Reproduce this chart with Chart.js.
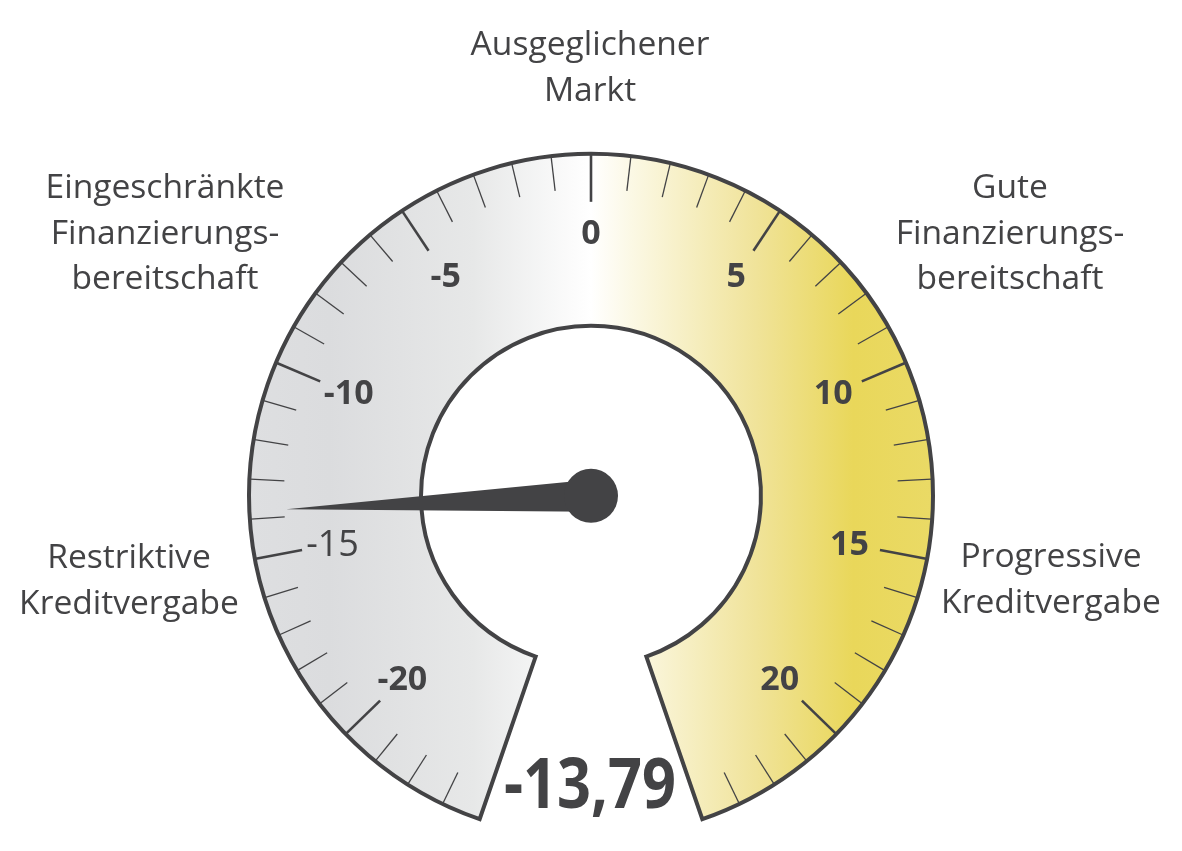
<!DOCTYPE html>
<html>
<head>
<meta charset="utf-8">
<script src="https://cdn.jsdelivr.net/npm/chart.js@4.4.0/dist/chart.umd.min.js"></script>
<style>
  html, body { margin: 0; padding: 0; background: #fff; }
  #wrap { width: 1182px; height: 851px; position: relative; }
</style>
</head>
<body>
<div id="wrap"><canvas id="gauge" width="1182" height="851"></canvas></div>
<script>
// gauge range and reading
var scaleRange = [-24, 24];
var majorTicks = [-20, -15, -10, -5, 0, 5, 10, 15, 20];
var tickLabels = ['-20', '-15', '-10', '-5', '0', '5', '10', '15', '20'];
var gaugeValue = -13.79;
var valueText = '-13,79';

// zone captions around the dial
var zoneLabels = [
  ['Restriktive', 'Kreditvergabe'],
  ['Eingeschränkte', 'Finanzierungs-', 'bereitschaft'],
  ['Ausgeglichener', 'Markt'],
  ['Gute', 'Finanzierungs-', 'bereitschaft'],
  ['Progressive', 'Kreditvergabe']
];

var ink = '#434345';

function gaugeFill(context) {
  var chart = context.chart;
  var area = chart.chartArea;
  if (!area) return '#e6e6e6';
  var cx = (area.left + area.right) / 2;
  var g = chart.ctx.createLinearGradient(cx - 345, 0, cx + 345, 0);
  g.addColorStop(0.00, '#dedfe1');
  g.addColorStop(0.12, '#dbdcde');
  g.addColorStop(0.33, '#e7e8e8');
  g.addColorStop(0.47, '#fbfbfb');
  g.addColorStop(0.50, '#ffffff');
  g.addColorStop(0.56, '#fbf8e4');
  g.addColorStop(0.74, '#f0e399');
  g.addColorStop(0.88, '#e9d75a');
  g.addColorStop(1.00, '#eada66');
  return g;
}

var gaugeDecor = {
  id: 'gaugeDecor',
  afterDatasetsDraw: function (chart) {
    var arc = chart.getDatasetMeta(0).data[0];
    var p = arc.getProps(['x', 'y', 'startAngle', 'endAngle', 'outerRadius', 'innerRadius'], true);
    var ctx = chart.ctx;
    var min = scaleRange[0], max = scaleRange[1];
    function ang(v) {
      return p.startAngle + (v - min) / (max - min) * (p.endAngle - p.startAngle);
    }
    function pt(a, r) {
      return [p.x + Math.cos(a) * r, p.y + Math.sin(a) * r];
    }
    var rOut = p.outerRadius;

    // ticks, one per unit
    ctx.save();
    ctx.strokeStyle = ink;
    ctx.lineCap = 'butt';
    for (var v = min + 1; v < max; v++) {
      var major = majorTicks.indexOf(v) >= 0;
      var a = ang(v);
      var p1 = pt(a, rOut - 1);
      var p2 = pt(a, rOut - (major ? 48 : 35));
      ctx.lineWidth = major ? 2.6 : 1.3;
      ctx.beginPath();
      ctx.moveTo(p1[0], p1[1]);
      ctx.lineTo(p2[0], p2[1]);
      ctx.stroke();
    }

    // tick labels
    ctx.fillStyle = ink;
    ctx.textAlign = 'center';
    ctx.textBaseline = 'middle';
    majorTicks.forEach(function (t, i) {
      var q = pt(ang(t), rOut - 79);
      ctx.font = (t === -15 ? '400 36px ' : 'bold 34px ') + '"Open Sans", sans-serif';
      ctx.fillText(tickLabels[i], q[0], q[1] + 1);
    });

    // needle
    var na = ang(gaugeValue);
    var tip = pt(na, 305);
    var b1 = pt(na + Math.PI / 2, 16);
    var b2 = pt(na - Math.PI / 2, 16);
    ctx.fillStyle = ink;
    ctx.beginPath();
    ctx.moveTo(tip[0], tip[1]);
    ctx.lineTo(b1[0], b1[1]);
    ctx.lineTo(b2[0], b2[1]);
    ctx.closePath();
    ctx.fill();
    ctx.beginPath();
    ctx.arc(p.x, p.y, 27, 0, Math.PI * 2);
    ctx.fill();

    // value below the dial
    ctx.font = 'bold 70px "Open Sans", sans-serif';
    ctx.textBaseline = 'alphabetic';
    ctx.fillText(valueText, p.x - 1, 808, 172);
    ctx.restore();
  },
  afterDraw: function (chart) {
    var ctx = chart.ctx;
    // caption anchor: centre x, first baseline
    var spots = [[129, 568], [165, 198], [590, 55], [1010, 198], [1051, 567]];
    ctx.save();
    ctx.fillStyle = ink;
    ctx.textAlign = 'center';
    ctx.textBaseline = 'alphabetic';
    ctx.font = '33.6px "Open Sans", sans-serif';
    zoneLabels.forEach(function (lines, i) {
      lines.forEach(function (s, j) {
        ctx.fillText(s, spots[i][0], spots[i][1] + j * 45.5);
      });
    });
    ctx.restore();
  }
};

var ctx = document.getElementById('gauge').getContext('2d');
var gauge = new Chart(ctx, {
  type: 'doughnut',
  data: {
    labels: ['Kreditklima'],
    datasets: [{
      data: [scaleRange[1] - scaleRange[0]],
      backgroundColor: gaugeFill,
      borderColor: ink,
      borderWidth: 4,
      borderJoinStyle: 'miter',
      clip: false
    }]
  },
  options: {
    responsive: false,
    animation: false,
    events: [],
    rotation: -161,
    circumference: 322,
    radius: 342,
    cutout: '49.7%',
    layout: { padding: { top: 122, bottom: 0, left: 0, right: 0 } },
    plugins: {
      legend: { display: false },
      tooltip: { enabled: false }
    }
  },
  plugins: [gaugeDecor]
});
</script>
</body>
</html>
